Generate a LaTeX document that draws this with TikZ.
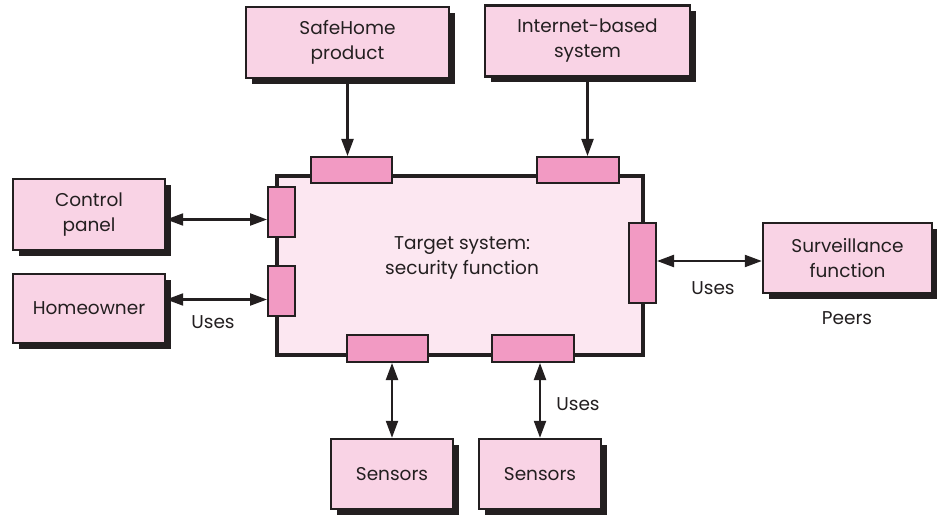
\documentclass[tikz,border=0pt]{standalone}
\usepackage{fontspec}
\setmainfont{Poppins}
\usepackage{xcolor}
\usepackage{tikz}
\usetikzlibrary{arrows.meta,positioning,shadows}
\definecolor{boxpink}{HTML}{F9D3E5}
\definecolor{portpink}{HTML}{F29AC3}
\definecolor{mainpink}{HTML}{FCE7F1}
\definecolor{inkgray}{HTML}{231F20}
\tikzset{
  extbox/.style={draw=inkgray, line width=2.4pt, fill=boxpink, align=center, text=inkgray,
    font=\fontsize{18.5}{25}\selectfont, inner sep=0pt,
    drop shadow={shadow xshift=6pt, shadow yshift=-6pt, fill=inkgray, opacity=1}},
  mainbox/.style={draw=inkgray, line width=4.5pt, fill=mainpink, inner sep=0pt},
  port/.style={draw=inkgray, line width=2pt, fill=portpink, inner sep=0pt},
  line/.style={-{Triangle[length=17pt, width=12pt]}, line width=2.2pt, draw=inkgray},
  biline/.style={{Triangle[length=17pt, width=12pt]}-{Triangle[length=17pt, width=12pt]}, line width=2.2pt, draw=inkgray},
  lbl/.style={text=inkgray, font=\fontsize{18.5}{25}\selectfont, align=center}
}
\begin{document}
\begin{tikzpicture}[x=1pt, y=-1pt]
  \useasboundingbox (0,0) rectangle (937,516);

  % target system and its ports
  \node[mainbox, minimum width=366pt, minimum height=179pt] (target) at (460,265.5) {};
  \node[lbl] (ttext) at (462,258) {Target system:\\security function};
  \node[port, minimum width=81pt, minimum height=26pt] (ptop1) at (351.5,170) {};
  \node[port, minimum width=82pt, minimum height=26pt] (ptop2) at (578,170) {};
  \node[port, minimum width=27pt, minimum height=50pt] (pleft1) at (281.5,212) {};
  \node[port, minimum width=27pt, minimum height=50pt] (pleft2) at (281.5,291) {};
  \node[port, minimum width=27pt, minimum height=80pt] (pright) at (642.5,263) {};
  \node[port, minimum width=81pt, minimum height=27pt] (pbot1) at (387.5,348.5) {};
  \node[port, minimum width=82pt, minimum height=27pt] (pbot2) at (533,348.5) {};

  % actors around it
  \node[extbox, minimum width=203pt, minimum height=71pt] (safehome) at (347.5,42.5) {SafeHome\\product};
  \node[extbox, minimum width=205pt, minimum height=71pt] (internet) at (587.5,41) {Internet-based\\system};
  \node[extbox, minimum width=152pt, minimum height=71pt] (ctrl) at (89,214.5) {Control\\panel};
  \node[extbox, minimum width=152pt, minimum height=69pt] (owner) at (89,308.5) {Homeowner};
  \node[extbox, minimum width=169pt, minimum height=70pt] (surv) at (847.5,258) {Surveillance\\function};
  \node[extbox, minimum width=122pt, minimum height=70pt] (sens1) at (392,474) {Sensors};
  \node[extbox, minimum width=122pt, minimum height=70pt] (sens2) at (540,474) {Sensors};

  \draw[line] (safehome.south) -- (safehome.south |- ptop1.north);
  \draw[line] (internet.south) -- (internet.south |- ptop2.north);
  \draw[biline] ([yshift=-5pt]ctrl.east) -- ([yshift=-5pt]ctrl.east -| pleft1.west);
  \draw[biline] ([yshift=9pt]owner.east) -- ([yshift=9pt]owner.east -| pleft2.west);
  \draw[biline] ([yshift=-3pt]surv.west) -- ([yshift=-3pt]surv.west -| pright.east);
  \draw[biline] (sens1.north) -- (sens1.north |- pbot1.south);
  \draw[biline] (sens2.north) -- (sens2.north |- pbot2.south);

  \node[lbl] (uses1) at (213,322) {Uses};
  \node[lbl] (uses2) at (713,288) {Uses};
  \node[lbl] (peers) at (847,318) {Peers};
  \node[lbl] (uses3) at (578,404) {Uses};
\end{tikzpicture}
\end{document}
